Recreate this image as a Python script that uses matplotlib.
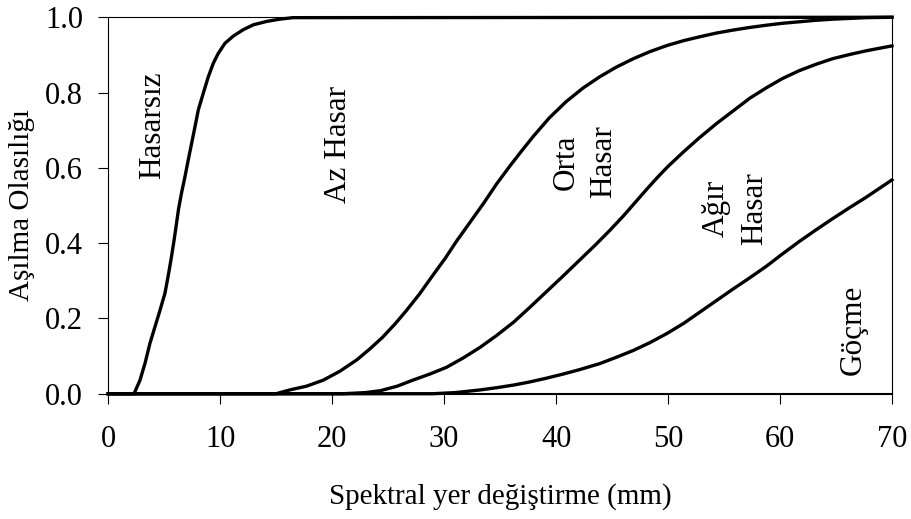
"""Fragility curves: exceedance probability vs spectral displacement (mm)."""

import matplotlib
matplotlib.use("Agg")
import matplotlib.pyplot as plt

# --- values -----------------------------------------------------------------
# boundary between "Hasarsız" and "Az Hasar"
x_slight = [0, 2.3, 2.83, 3.28, 3.72, 4.17, 4.62, 5.06, 5.36, 5.62, 5.86, 6.07,
            6.27, 6.55, 6.85, 7.14, 7.44, 7.74, 8.04, 8.48, 8.93, 9.38, 9.82,
            10.42, 11.16, 12.05, 12.95, 14.14, 15.3, 16.5, 70]
p_slight = [0, 0, 0.036, 0.081, 0.134, 0.178, 0.222, 0.267, 0.315, 0.36, 0.405, 0.448,
            0.49, 0.535, 0.577, 0.621, 0.665, 0.709, 0.754, 0.798, 0.842, 0.878, 0.904,
            0.931, 0.95, 0.967, 0.98, 0.989, 0.995, 0.999, 1.0]

# boundary between "Az Hasar" and "Orta Hasar"
x_light = [0, 15.0, 16.2, 17.7, 19.2, 20.7, 22.2, 23.4, 24.5, 25.6, 26.6, 27.8,
           29.0, 30.1, 31.1, 32.3, 33.5, 34.7, 35.9, 37.0, 38.0, 39.4, 40.9,
           42.4, 43.9, 45.4, 46.9, 48.4, 49.9, 51.4, 52.8, 54.3, 55.8, 57.3,
           58.8, 60.2, 61.7, 63.2, 64.7, 67.7, 70]
p_light = [0, 0, 0.01, 0.02, 0.036, 0.06, 0.09, 0.12, 0.15, 0.185, 0.22, 0.265,
           0.315, 0.36, 0.405, 0.455, 0.505, 0.558, 0.606, 0.648, 0.685, 0.733, 0.776,
           0.812, 0.842, 0.868, 0.89, 0.909, 0.925, 0.938, 0.948, 0.958, 0.966, 0.973,
           0.979, 0.984, 0.988, 0.992, 0.995, 0.999, 1.0]

# boundary between "Orta Hasar" and "Ağır Hasar"
x_moderate = [0, 21, 23, 24.3, 25.8, 27.2, 28.7, 30.2, 31.7, 33.2, 34.7, 36.2,
              37.6, 39.1, 40.6, 42.1, 43.5, 44.8, 46.0, 47.0, 48.0, 49.0, 50.0,
              51.4, 52.8, 54.3, 55.8, 57.3, 58.8, 60.2, 61.7, 63.2, 64.7, 66.2,
              67.7, 70]
p_moderate = [0, 0, 0.003, 0.008, 0.02, 0.036, 0.052, 0.07, 0.095, 0.123, 0.155, 0.19,
              0.228, 0.27, 0.312, 0.355, 0.395, 0.434, 0.472, 0.506, 0.54, 0.573, 0.604,
              0.643, 0.68, 0.717, 0.751, 0.785, 0.813, 0.837, 0.858, 0.875, 0.89, 0.901,
              0.911, 0.924]

# boundary between "Ağır Hasar" and "Göçme"
x_collapse = [0, 29, 31, 33.2, 34.7, 36.2, 37.6, 39.1, 40.6, 42.1, 43.9, 45.4,
              46.9, 48.4, 49.9, 51.4, 52.8, 54.3, 55.8, 57.3, 58.8, 60.2, 61.7,
              63.2, 64.7, 66.2, 67.7, 70]
p_collapse = [0, 0, 0.003, 0.01, 0.016, 0.023, 0.031, 0.041, 0.052, 0.064, 0.08, 0.097,
              0.115, 0.136, 0.16, 0.187, 0.216, 0.247, 0.278, 0.308, 0.339, 0.371, 0.404,
              0.435, 0.465, 0.494, 0.522, 0.568]

state_labels = ["Hasarsız", "Az Hasar", "Orta\nHasar", "Ağır\nHasar", "Göçme"]
label_x = [4.0, 20.6, 42.6, 56.0, 66.5]
label_y = [0.712, 0.663, 0.616, 0.493, 0.169]

x_ticks = [0, 10, 20, 30, 40, 50, 60, 70]
y_ticks = [0.0, 0.2, 0.4, 0.6, 0.8, 1.0]

plt.rcParams["font.family"] = ["Liberation Serif", "DejaVu Serif"]
FS = 21

fig = plt.figure(figsize=(9.11, 5.19), dpi=100)
ax = fig.add_axes([0.1189, 0.2414, 0.8602, 0.7253])

for xs, ps in ((x_slight, p_slight), (x_light, p_light),
               (x_moderate, p_moderate), (x_collapse, p_collapse)):
    ax.plot(xs, ps, color="black", linewidth=2.4, solid_joinstyle="round",
            clip_on=False, zorder=3)

for txt, lx, ly in zip(state_labels, label_x, label_y):
    ax.text(lx, ly, txt, rotation=90, ha="center", va="center",
            multialignment="center", linespacing=1.4, fontsize=22.5)

ax.set_xlim(0, 70)
ax.set_ylim(0, 1.0)
ax.set_xticks(x_ticks)
ax.set_yticks(y_ticks)
ax.set_xticklabels([f"{t}" for t in x_ticks])
ax.set_yticklabels([f"{t:.1f}" for t in y_ticks])
ax.tick_params(axis="both", direction="out", length=7.2, width=0.8,
               labelsize=22, color="black")
ax.tick_params(axis="x", pad=15)
ax.tick_params(axis="y", pad=11)

for side in ("left", "right", "top"):
    ax.spines[side].set_linewidth(0.8)
ax.spines["bottom"].set_linewidth(1.5)

ax.set_xlabel("Spektral yer değiştirme (mm)", fontsize=FS, va="center")
ax.xaxis.set_label_coords(0.5, -0.274)
ax.set_ylabel("Aşılma Olasılığı", fontsize=FS, va="center")
ax.yaxis.set_label_coords(-0.11, 0.5)

fig.savefig("out.png", dpi=100)
